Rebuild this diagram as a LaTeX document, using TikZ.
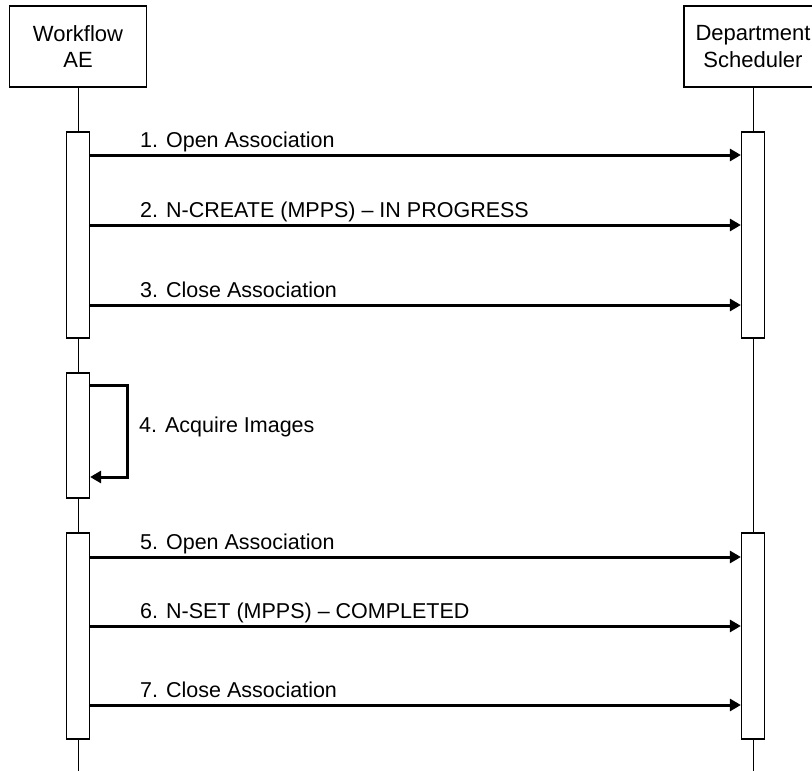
\documentclass[tikz,border=0pt]{standalone}
\usepackage{fontspec}
\setmainfont{Liberation Sans}
\usetikzlibrary{arrows.meta, positioning}

\tikzset{
  actor/.style={draw, line width=1.2pt, fill=white, align=center, inner sep=0pt,
    minimum width=137pt, minimum height=81pt, font=\fontsize{22}{26.5}\selectfont},
  actbar/.style={draw, line width=1.2pt, fill=white, minimum width=23pt, inner sep=0pt},
  life/.style={line width=0.9pt},
  msg/.style={line width=3pt, -{Triangle[length=11pt, width=12pt]}},
  msglabel/.style={anchor=base west, inner sep=0pt, font=\fontsize{21.5}{26}\selectfont}
}

\begin{document}
\begin{tikzpicture}[x=1pt, y=-1pt]
  \useasboundingbox (0,0) rectangle (812,771);
  \clip (0,0) rectangle (812,771);
  % actors
  \node[actor] (wf) at (78,46.5) {Workflow\\AE};
  \node[actor, minimum width=138pt] (ds) at (753,46.5) {Department\\Scheduler};
  % lifelines
  \coordinate (wfend) at (78,771);
  \coordinate (dsend) at (753,771);
  \draw[life] (wf.south) -- (wfend);
  \draw[life] (ds.south) -- (dsend);
  % activation bars
  \node[actbar, minimum height=206pt] (wa1) at (78,235) {};
  \node[actbar, minimum height=125pt] (wa2) at (78,435.5) {};
  \node[actbar, minimum height=206pt] (wa3) at (78,636) {};
  \node[actbar, minimum height=206pt] (da1) at (753,235) {};
  \node[actbar, minimum height=206pt] (da3) at (753,636) {};
  % first association
  \foreach \y/\txt [count=\i] in {155/{1. Open Association},
      225/{2. N-CREATE (MPPS) \textendash\ IN PROGRESS},
      305/{3. Close Association}}{
    \coordinate (m\i) at (wa1.east |- 0,\y);
    \draw[msg] (m\i) -- (m\i -| da1.west);
    \node[msglabel] (l\i) at (140,\y-8) {\txt};
  }
  % self message
  \coordinate (s4a) at (wa2.east |- 0,385);
  \coordinate (s4b) at (wa2.east |- 0,477);
  \draw[msg] (s4a) -- ++(37,0) |- (s4b);
  \node[msglabel] (l4) at (139,432) {4. Acquire Images};
  % second association
  \foreach \y/\txt [count=\i from 5] in {557/{5. Open Association},
      626/{6. N-SET (MPPS) \textendash\ COMPLETED},
      705/{7. Close Association}}{
    \coordinate (m\i) at (wa3.east |- 0,\y);
    \draw[msg] (m\i) -- (m\i -| da3.west);
    \node[msglabel] (l\i) at (140,\y-8) {\txt};
  }
\end{tikzpicture}
\end{document}
